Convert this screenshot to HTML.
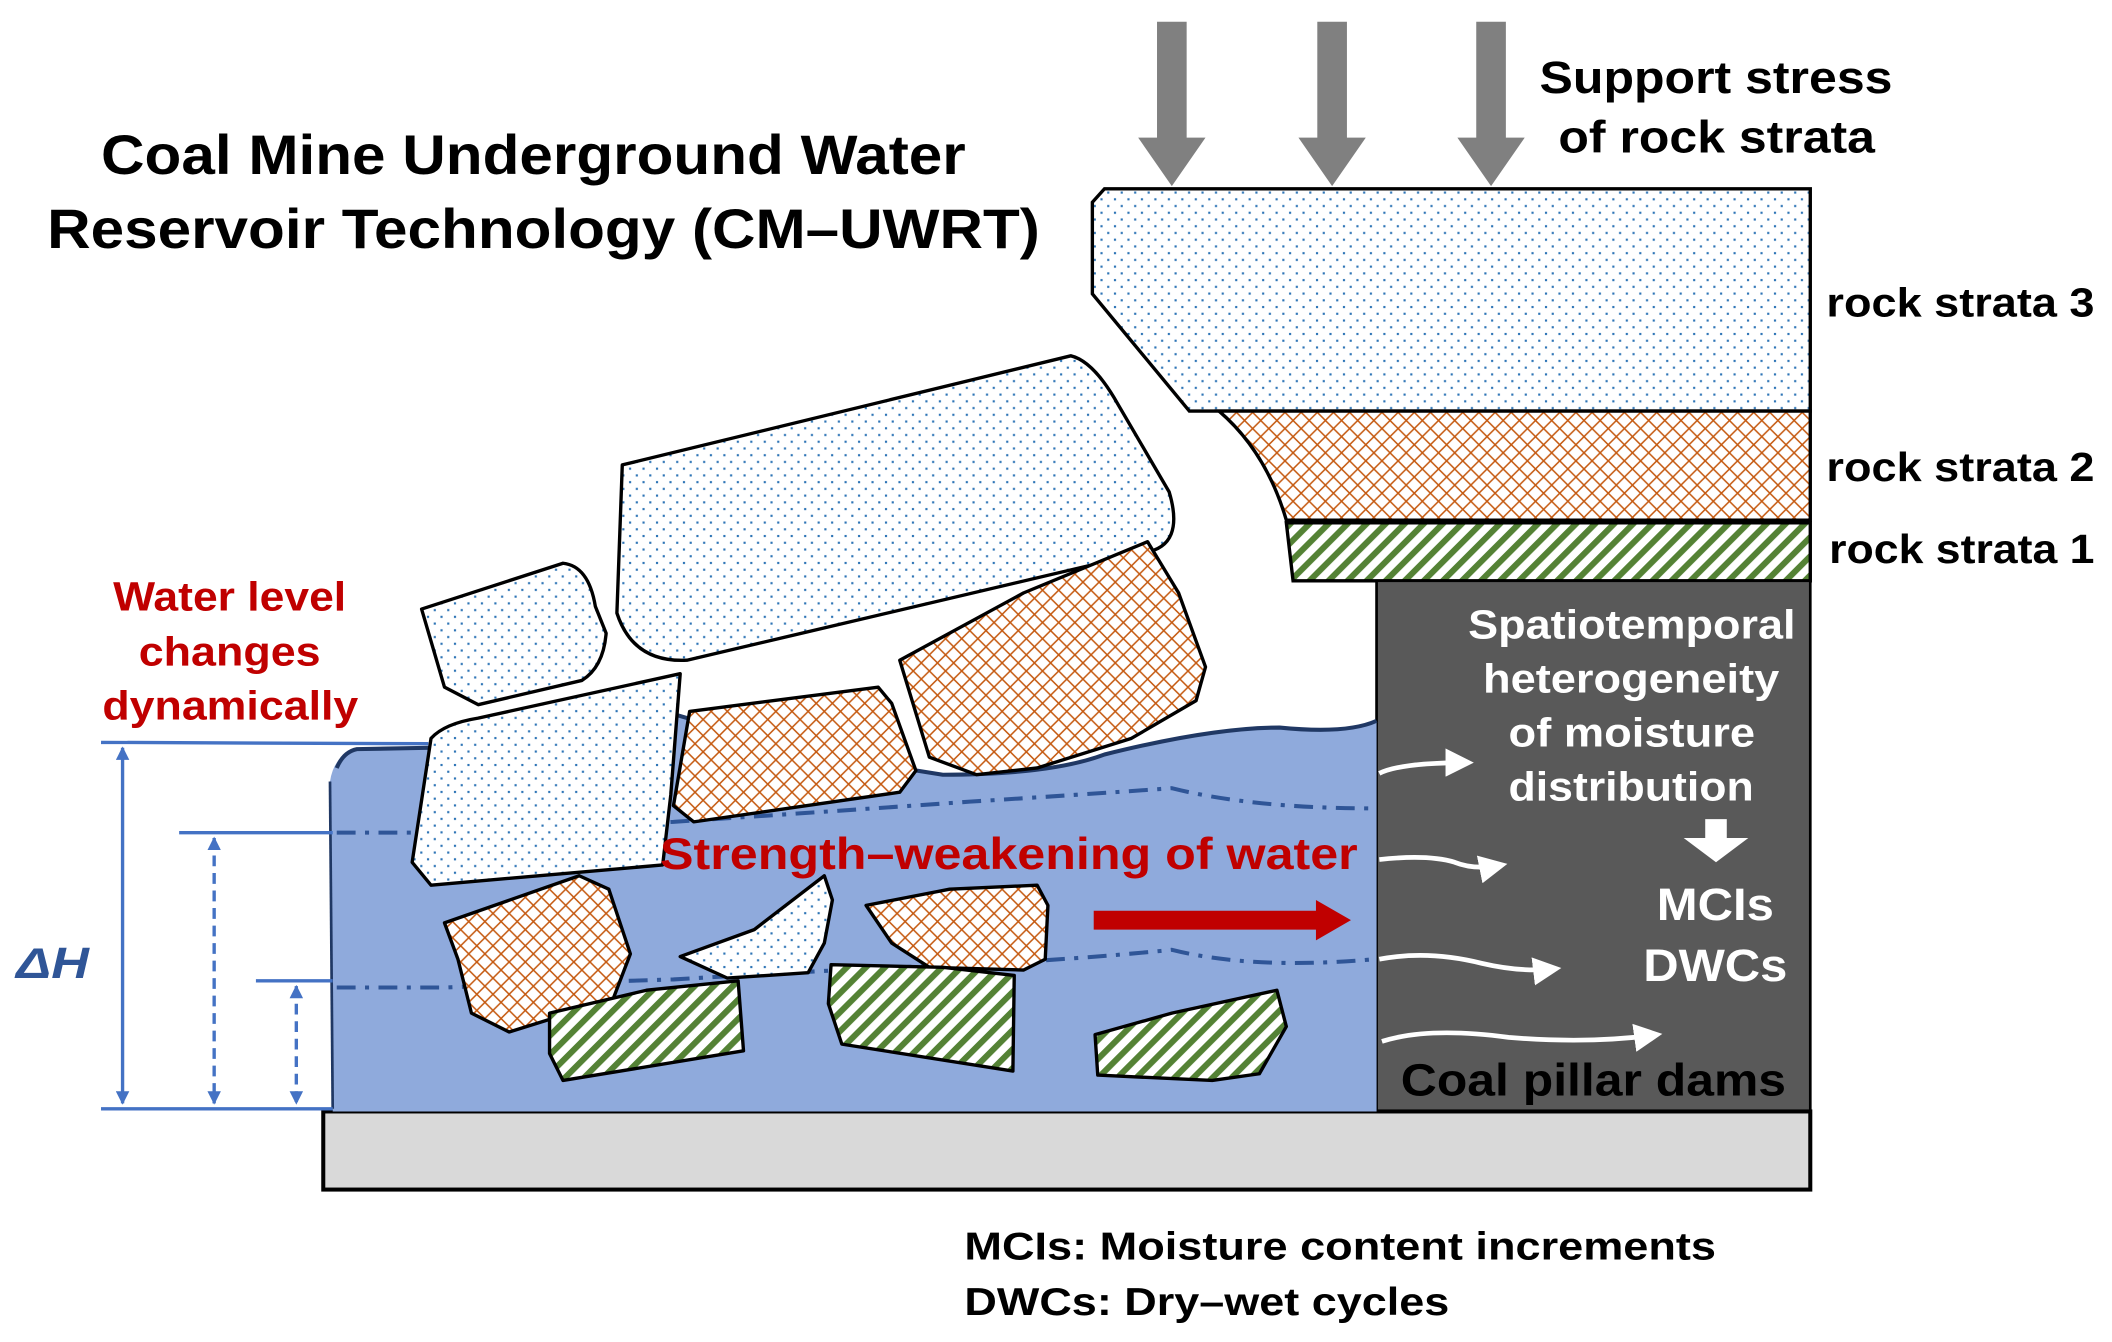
<!DOCTYPE html>
<html><head><meta charset="utf-8"><style>html,body{margin:0;padding:0;background:#fff;}svg{display:block;}</style></head>
<body>
<svg width="2112" height="1342" viewBox="0 0 1568 996" xmlns="http://www.w3.org/2000/svg" font-family="Liberation Sans, Arial, sans-serif" font-weight="bold">
<defs>
<pattern id="dots" width="10" height="10" patternUnits="userSpaceOnUse"><rect width="10" height="10" fill="#fff"/><rect x="2" y="2" width="1.6" height="1.6" fill="#2e75b6"/><rect x="7" y="7" width="1.6" height="1.6" fill="#2e75b6"/></pattern>
<pattern id="hatch" width="12" height="12" patternUnits="userSpaceOnUse"><rect width="12" height="12" fill="#fff"/><path d="M0 12 L12 0 M-3 3 L3 -3 M9 15 L15 9 M0 0 L12 12 M-3 9 L3 15 M9 -3 L15 3" stroke="#c55a11" stroke-width="1.1"/></pattern>
<pattern id="stripe" width="10" height="10" patternUnits="userSpaceOnUse" patternTransform="rotate(45)"><rect width="10" height="10" fill="#fff"/><rect width="4.5" height="10" fill="#548235"/></pattern>
<marker id="ah" viewBox="0 0 10 10" refX="9" refY="5" markerWidth="4" markerHeight="4" orient="auto-start-reverse"><path d="M0 0 L10 5 L0 10 Z" fill="#4472c4"/></marker>
<marker id="wh" viewBox="0 0 10 10" refX="8" refY="5" markerWidth="6" markerHeight="6" orient="auto"><path d="M0 0 L10 5 L0 10 Z" fill="#fff"/></marker>
</defs>

<g fill="#808080">
<path d="M859 16 H881 V102 H895 L870 138 L845 102 H859 Z"/>
<path d="M978 16 H1000 V102 H1014 L989 138 L964 102 H978 Z"/>
<path d="M1096 16 H1118 V102 H1132 L1107 138 L1082 102 H1096 Z"/>
</g>
<g lengthAdjust="spacingAndGlyphs">
<text x="1143" y="69" font-size="34" textLength="262" lengthAdjust="spacingAndGlyphs">Support stress</text>
<text x="1157" y="113" font-size="34" textLength="235" lengthAdjust="spacingAndGlyphs">of rock strata</text>
<text x="75" y="129" font-size="41" textLength="642" lengthAdjust="spacingAndGlyphs">Coal Mine Underground Water</text>
<text x="35" y="184" font-size="41" textLength="737" lengthAdjust="spacingAndGlyphs">Reservoir Technology (CM–UWRT)</text>
</g>

<path d="M820 140 H1344 V305 H883 L811 218 V150 Z" fill="url(#dots)" stroke="#000" stroke-width="2.5"/>
<path d="M905 305 H1344 V386 H955 Q940 335 905 305 Z" fill="url(#hatch)" stroke="#000" stroke-width="2.5"/>
<path d="M955 388 H1344 V431 H960 Z" fill="url(#stripe)" stroke="#000" stroke-width="2.5"/>
<text x="1356" y="235" font-size="30" textLength="199" lengthAdjust="spacingAndGlyphs">rock strata 3</text>
<text x="1356" y="357" font-size="30" textLength="199" lengthAdjust="spacingAndGlyphs">rock strata 2</text>
<text x="1358" y="418" font-size="30" textLength="197" lengthAdjust="spacingAndGlyphs">rock strata 1</text>

<rect x="1022" y="431" width="322" height="394" fill="#595959" stroke="#000" stroke-width="2"/>
<rect x="240" y="825" width="1104" height="58" fill="#d9d9d9" stroke="#000" stroke-width="3"/>

<path d="M247 823 L245 580 Q248 560 265 556 L320 555 L500 530 Q600 560 700 575 Q780 575 820 560 Q900 540 950 540 Q1000 545 1022 535 V825 H247 Z" fill="#8faadc"/>
<path d="M250 570 Q255 558 265 556 L320 555 M500 530 Q600 560 700 575 Q780 575 820 560 Q900 540 950 540 Q1000 545 1022 535" fill="none" stroke="#203864" stroke-width="3"/>
<path d="M247 823 L245 580" stroke="#203864" stroke-width="2"/>
<path d="M250 618 L330 618 Q400 614 500 610 Q650 600 720 595 Q800 590 870 585 Q930 600 1020 600" fill="none" stroke="#2f5597" stroke-width="3" stroke-dasharray="14 7 3 7"/>
<path d="M250 733 L330 733 Q400 730 500 727 Q650 718 720 716 Q800 712 870 705 Q930 720 1020 712" fill="none" stroke="#2f5597" stroke-width="3" stroke-dasharray="14 7 3 7"/>

<g stroke="#000" stroke-width="2.5" stroke-linejoin="round">
<path d="M462 345 L795 264 Q812 268 830 300 L868 365 Q880 405 850 410 L510 490 Q470 492 458 455 Z" fill="url(#dots)"/>
<path d="M313 452 L418 418 Q437 420 442 450 L450 470 Q448 495 432 505 L355 523 L330 510 Z" fill="url(#dots)"/>
<path d="M320 548 Q330 537 355 533 L505 500 L498 590 L492 642 L320 657 L306 640 Z" fill="url(#dots)"/>
<path d="M512 528 L652 510 L662 522 L680 572 L668 588 L515 610 L500 598 Z" fill="url(#hatch)"/>
<path d="M668 490 L760 440 L852 402 L875 440 L895 495 L888 520 L840 548 L770 570 L725 575 L690 562 Z" fill="url(#hatch)"/>
<path d="M330 685 L430 650 L452 660 L468 708 L455 742 L378 766 L350 752 L340 712 Z" fill="url(#hatch)"/>
<path d="M505 710 L560 690 L612 650 L618 668 L612 700 L600 722 L540 726 Z" fill="url(#dots)"/>
<path d="M643 672 L705 660 L770 657 L778 672 L776 712 L760 720 L690 718 L662 700 Z" fill="url(#hatch)"/>
<path d="M408 752 L480 735 L548 728 L552 780 L418 802 L408 782 Z" fill="url(#stripe)"/>
<path d="M617 716 L700 718 L753 724 L752 795 L625 775 L615 745 Z" fill="url(#stripe)"/>
<path d="M813 768 L870 752 L948 735 L955 762 L935 797 L900 802 L815 798 Z" fill="url(#stripe)"/>
</g>

<g stroke="#4472c4" stroke-width="2.5" fill="none">
<line x1="75" y1="551" x2="318" y2="552"/>
<line x1="133" y1="618" x2="247" y2="618"/>
<line x1="190" y1="728" x2="247" y2="728"/>
<line x1="75" y1="823" x2="247" y2="823"/>
<line x1="91" y1="555" x2="91" y2="819" marker-start="url(#ah)" marker-end="url(#ah)"/>
<line x1="159" y1="622" x2="159" y2="819" stroke-dasharray="8 5" marker-start="url(#ah)" marker-end="url(#ah)"/>
<line x1="220" y1="732" x2="220" y2="819" stroke-dasharray="8 5" marker-start="url(#ah)" marker-end="url(#ah)"/>
</g>
<text x="12" y="726" font-size="32" font-style="italic" fill="#2f5597" textLength="54" lengthAdjust="spacingAndGlyphs">ΔH</text>
<g fill="#c00000" font-size="30">
<text x="84" y="453" textLength="173" lengthAdjust="spacingAndGlyphs">Water level</text>
<text x="103" y="494" textLength="135" lengthAdjust="spacingAndGlyphs">changes</text>
<text x="76" y="534" textLength="190" lengthAdjust="spacingAndGlyphs">dynamically</text>
</g>
<text x="490" y="645" font-size="33" fill="#c00000" textLength="518" lengthAdjust="spacingAndGlyphs">Strength–weakening of water</text>
<path d="M812 676 H977 V668 L1003 683 L977 698 V690 H812 Z" fill="#c00000"/>

<g fill="#fff" font-size="30">
<text x="1090" y="474" textLength="243" lengthAdjust="spacingAndGlyphs">Spatiotemporal</text>
<text x="1101" y="514" textLength="220" lengthAdjust="spacingAndGlyphs">heterogeneity</text>
<text x="1120" y="554" textLength="183" lengthAdjust="spacingAndGlyphs">of moisture</text>
<text x="1120" y="594" textLength="182" lengthAdjust="spacingAndGlyphs">distribution</text>
<text x="1230" y="683" font-size="34" textLength="87" lengthAdjust="spacingAndGlyphs">MCIs</text>
<text x="1220" y="728" font-size="34" textLength="107" lengthAdjust="spacingAndGlyphs">DWCs</text>
</g>
<path d="M1266 608 H1282 V622 H1298 L1274 640 L1250 622 H1266 Z" fill="#fff"/>
<g fill="none" stroke="#fff" stroke-width="3.5" marker-end="url(#wh)">
<path d="M1024 574 Q1040 566 1090 566"/>
<path d="M1024 638 Q1060 634 1080 640 Q1095 646 1115 642"/>
<path d="M1024 712 Q1060 705 1100 715 Q1130 722 1155 719"/>
<path d="M1026 773 Q1060 762 1120 770 Q1180 775 1230 768"/>
</g>
<text x="1040" y="813" font-size="34" fill="#000" textLength="286" lengthAdjust="spacingAndGlyphs">Coal pillar dams</text>

<text x="716" y="935" font-size="29" textLength="558" lengthAdjust="spacingAndGlyphs">MCIs: Moisture content increments</text>
<text x="716" y="976" font-size="29" textLength="360" lengthAdjust="spacingAndGlyphs">DWCs: Dry–wet cycles</text>
</svg>
</body></html>
